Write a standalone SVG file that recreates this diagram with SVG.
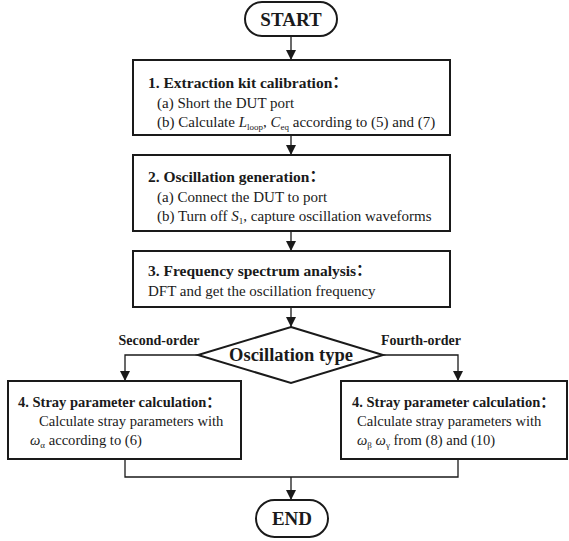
<svg xmlns="http://www.w3.org/2000/svg" width="569" height="541" viewBox="0 0 569 541">
<style>
.box{fill:#fff;stroke:#1a1a1a;stroke-width:2}
.ln{fill:none;stroke:#1a1a1a;stroke-width:1.3}
.h{font-weight:bold;font-size:15.5px}
.h2{font-weight:bold;font-size:14.5px}
.b{font-size:15px}
.b2{font-size:14.6px}
.t{font-weight:bold;font-size:19px}
.dt{font-weight:bold;font-size:18.5px}
.lbl{font-weight:bold;font-size:14px}
.i{font-style:italic}
.sub{font-size:9px}
</style>
<defs>
<marker id="ar" viewBox="0 0 10 10" refX="10" refY="5" markerWidth="10" markerHeight="10" markerUnits="userSpaceOnUse" orient="auto">
<path d="M0,0 L10,5 L0,10 z" fill="#1a1a1a"/>
</marker>
</defs>
<g id="connectors">
<line class="ln" x1="291" y1="36" x2="291" y2="60" marker-end="url(#ar)"/>
<line class="ln" x1="291" y1="135" x2="291" y2="155" marker-end="url(#ar)"/>
<line class="ln" x1="291" y1="231" x2="291" y2="251" marker-end="url(#ar)"/>
<line class="ln" x1="291" y1="307" x2="291" y2="327" marker-end="url(#ar)"/>
<polyline class="ln" points="198,355 125,355 125,381" marker-end="url(#ar)"/>
<polyline class="ln" points="383,355 458,355 458,381" marker-end="url(#ar)"/>
<polyline class="ln" points="125,459 125,477 458,477 458,459"/>
<line class="ln" x1="291" y1="477" x2="291" y2="500" marker-end="url(#ar)"/>
</g>
<g font-family="Liberation Serif, Times New Roman, DejaVu Serif, serif" fill="#1a1a1a">
<g id="start">
<rect class="box" x="245" y="2" width="92" height="34" rx="17"/>
<text class="t" x="291" y="26" text-anchor="middle">START</text>
</g>
<g id="step1">
<rect class="box" x="133" y="60" width="317" height="75"/>
<text class="h" x="148" y="88">1. Extraction kit calibration<tspan font-family="Noto Sans CJK SC, sans-serif">：</tspan></text>
<text class="b" x="157" y="108">(a) Short the DUT port</text>
<text class="b" x="157" y="127">(b) Calculate <tspan class="i">L</tspan><tspan class="sub" dy="3">loop</tspan><tspan dy="-3">, </tspan><tspan class="i">C</tspan><tspan class="sub" dy="3">eq</tspan><tspan dy="-3"> according to (5) and (7)</tspan></text>
</g>
<g id="step2">
<rect class="box" x="133" y="155" width="317" height="76"/>
<text class="h" x="148" y="182">2. Oscillation generation<tspan font-family="Noto Sans CJK SC, sans-serif">：</tspan></text>
<text class="b" x="157" y="202">(a) Connect the DUT to port</text>
<text class="b" x="157" y="221">(b) Turn off <tspan class="i">S</tspan><tspan class="sub" dy="3">1</tspan><tspan dy="-3">, capture oscillation waveforms</tspan></text>
</g>
<g id="step3">
<rect class="box" x="133" y="251" width="317" height="56"/>
<text class="h" x="148" y="276">3. Frequency spectrum analysis<tspan font-family="Noto Sans CJK SC, sans-serif">：</tspan></text>
<text class="b" x="148" y="296">DFT and get the oscillation frequency</text>
</g>
<g id="decision">
<polygon class="box" points="291,327 383,355 291,383 198,355"/>
<text class="dt" x="291" y="361" text-anchor="middle">Oscillation type</text>
<text class="lbl" x="159" y="345" text-anchor="middle">Second-order</text>
<text class="lbl" x="421" y="345" text-anchor="middle">Fourth-order</text>
</g>
<g id="step4a">
<rect class="box" x="8" y="381" width="233" height="78"/>
<text class="h2" x="18" y="407">4. Stray parameter calculation<tspan font-family="Noto Sans CJK SC, sans-serif">：</tspan></text>
<text class="b2" x="39" y="426">Calculate stray parameters with</text>
<text class="b2" x="30" y="445"><tspan class="i">ω</tspan><tspan class="sub" dy="3">α</tspan><tspan dy="-3"> according to (6)</tspan></text>
</g>
<g id="step4b">
<rect class="box" x="341" y="381" width="226" height="78"/>
<text class="h2" x="352" y="407">4. Stray parameter calculation<tspan font-family="Noto Sans CJK SC, sans-serif">：</tspan></text>
<text class="b2" x="357" y="426">Calculate stray parameters with</text>
<text class="b2" x="357" y="445"><tspan class="i">ω</tspan><tspan class="sub" dy="3">β</tspan><tspan dy="-3"> </tspan><tspan class="i">ω</tspan><tspan class="sub" dy="3">γ</tspan><tspan dy="-3"> from (8) and (10)</tspan></text>
</g>
<g id="end">
<rect class="box" x="256" y="500" width="72" height="37" rx="18.5"/>
<text class="t" x="292" y="525" text-anchor="middle">END</text>
</g>
</g>
</svg>
